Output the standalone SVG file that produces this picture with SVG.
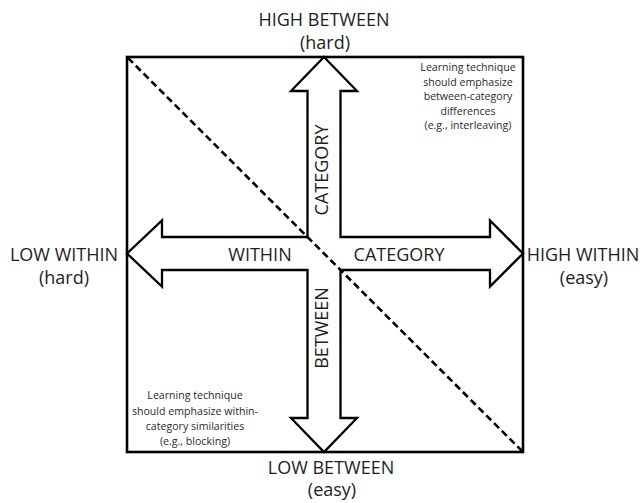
<svg xmlns="http://www.w3.org/2000/svg" width="644" height="503" viewBox="0 0 644 503">
<style>
.lbl{font-family:"Open Sans","Liberation Sans",sans-serif;font-size:18px;fill:#1e1e1e;text-anchor:middle}
.note{font-family:"Open Sans","Liberation Sans",sans-serif;font-size:10.6px;fill:#2a2a2a;text-anchor:middle}
.frame{fill:none;stroke:#000;stroke-width:2.6}
.arrow{fill:none;stroke:#000;stroke-width:2.3;stroke-linejoin:miter}
.diag{stroke:#000;stroke-width:2.6;stroke-dasharray:7 4;fill:none}
</style>
<rect width="644" height="503" fill="#fff"/>
<g id="frame">
<rect class="frame" x="127" y="57" width="396" height="395"/>
</g>
<g id="connectors">
<polygon class="arrow" points="324,57 357,91 340.5,91 340.5,237 490,237 490,220.5 523,253.5 490,286.5 490,270 340.5,270 340.5,418 357,418 324,452 291,418 307.5,418 307.5,270 162,270 162,286.5 127,253.5 162,220.5 162,237 307.5,237 307.5,91 291,91"/>
<line class="diag" x1="128" y1="58" x2="522" y2="451"/>
</g>
<g id="high-between">
<text class="lbl" x="324" y="26">HIGH BETWEEN</text>
<text class="lbl" x="325" y="49">(hard)</text>
</g>
<g id="low-between">
<text class="lbl" x="331" y="474">LOW BETWEEN</text>
<text class="lbl" x="332" y="496">(easy)</text>
</g>
<g id="low-within">
<text class="lbl" x="64" y="261">LOW WITHIN</text>
<text class="lbl" x="64" y="284">(hard)</text>
</g>
<g id="high-within">
<text class="lbl" x="583" y="261">HIGH WITHIN</text>
<text class="lbl" x="584" y="284">(easy)</text>
</g>
<g id="arrow-labels">
<text class="lbl" x="260" y="261">WITHIN</text>
<text class="lbl" x="399" y="261">CATEGORY</text>
<text class="lbl" transform="translate(327.5,170) rotate(-90)">CATEGORY</text>
<text class="lbl" transform="translate(327.5,328) rotate(-90)">BETWEEN</text>
</g>
<g id="note-between">
<text class="note" x="468" y="71">Learning technique</text>
<text class="note" x="468" y="85.5">should emphasize</text>
<text class="note" x="468" y="100">between-category</text>
<text class="note" x="468" y="114.5">differences</text>
<text class="note" x="468" y="129">(e.g., interleaving)</text>
</g>
<g id="note-within">
<text class="note" x="195" y="399">Learning technique</text>
<text class="note" x="195" y="414.5">should emphasize within-</text>
<text class="note" x="195" y="430">category similarities</text>
<text class="note" x="195" y="445">(e.g., blocking)</text>
</g>
</svg>
